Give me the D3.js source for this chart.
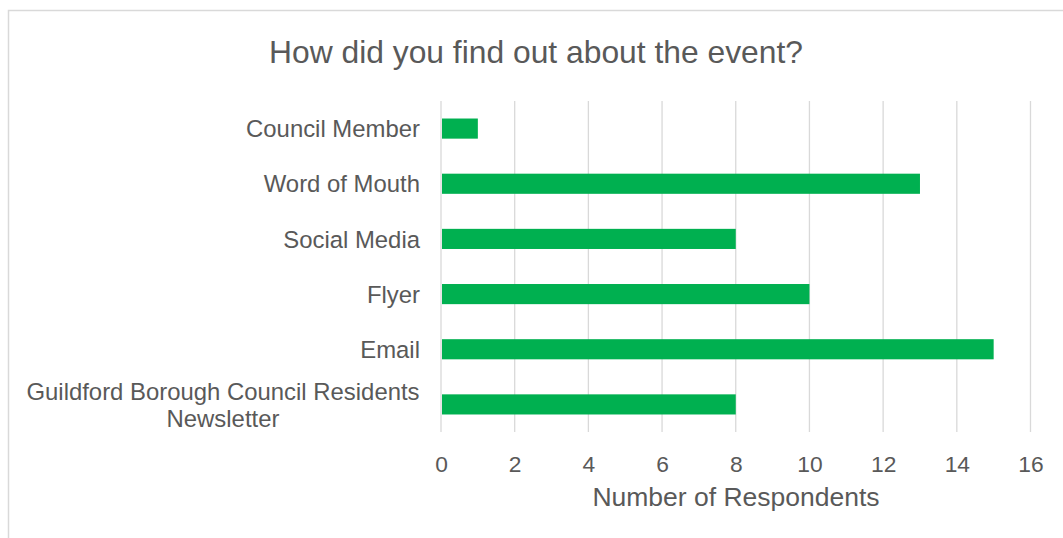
<!DOCTYPE html>
<html>
<head>
<meta charset="utf-8">
<script src="https://cdn.jsdelivr.net/npm/d3@7"></script>
<style>
    body { margin: 0; background: #fff; }
    svg { display: block; font-family: "Liberation Sans", Arial, sans-serif; }
    .tick text { fill: #595959; }
</style>
</head>
<body>
<svg width="1063" height="538"></svg>
<script>
// data, top to bottom
const categories = ["Council Member", "Word of Mouth", "Social Media", "Flyer", "Email",
    "Guildford Borough Council Residents Newsletter"];
const respondents = [1, 13, 8, 10, 15, 8];
const xTicks = [0, 2, 4, 6, 8, 10, 12, 14, 16];

const svg = d3.select("svg");

// chart frame (runs off the right and bottom of the window)
svg.append("rect")
    .attr("x", 8.5).attr("y", 10.5)
    .attr("width", 1100).attr("height", 600)
    .attr("fill", "none")
    .attr("stroke", "#d9d9d9")
    .attr("stroke-width", 1.5);

const plot = { left: 441, right: 1030.5, top: 101, bottom: 432 };

let x = d3.scaleLinear().domain([0, 16]).range([plot.left, plot.right]);
let y = d3.scaleBand().domain(categories).range([plot.top, plot.bottom]).paddingInner(0.635).paddingOuter(0.3175);

// gridlines
svg.append("g")
    .selectAll("line")
    .data(xTicks)
    .enter()
    .append("line")
    .attr("x1", d => x(d)).attr("x2", d => x(d))
    .attr("y1", plot.top).attr("y2", plot.bottom)
    .attr("stroke", "#d9d9d9")
    .attr("stroke-width", 1.3);

// bars
svg.append("g")
    .selectAll("rect")
    .data(respondents)
    .enter()
    .append("rect")
    .attr("x", x(0) + 1)
    .attr("y", (d, i) => y(categories[i]))
    .attr("width", d => x(d) - x(0) - 1)
    .attr("height", y.bandwidth())
    .attr("fill", "#00b050");

// x axis labels
const xAxis = svg.append("g")
    .attr("transform", "translate(0," + plot.bottom + ")")
    .call(d3.axisBottom(x).tickValues(xTicks).tickSize(0).tickPadding(24));
xAxis.select(".domain").remove();
xAxis.selectAll("text").attr("font-size", "22.8px").attr("font-family", null);

// category labels, long one wrapped onto two lines
const yAxis = svg.append("g")
    .attr("transform", "translate(" + plot.left + ",0)")
    .call(d3.axisLeft(y).tickSize(0).tickPadding(21));
yAxis.select(".domain").remove();
yAxis.selectAll("text")
    .attr("font-size", "23.9px")
    .attr("font-family", null)
    .attr("dy", "0.36em")
    .each(function(d) {
        if (d.length > 30) {
            const t = d3.select(this).text(null).attr("text-anchor", "middle").attr("dy", null);
            t.append("tspan").attr("x", -218).attr("dy", "-0.2em").text("Guildford Borough Council Residents");
            t.append("tspan").attr("x", -218).attr("dy", "1.15em").text("Newsletter");
        }
    });

// title
svg.append("text")
    .attr("x", 536)
    .attr("y", 63)
    .attr("text-anchor", "middle")
    .attr("font-size", "31.8px")
    .attr("fill", "#595959")
    .text("How did you find out about the event?");

// axis title
svg.append("text")
    .attr("x", 736)
    .attr("y", 506)
    .attr("text-anchor", "middle")
    .attr("font-size", "26.5px")
    .attr("fill", "#595959")
    .text("Number of Respondents");
</script>
</body>
</html>
